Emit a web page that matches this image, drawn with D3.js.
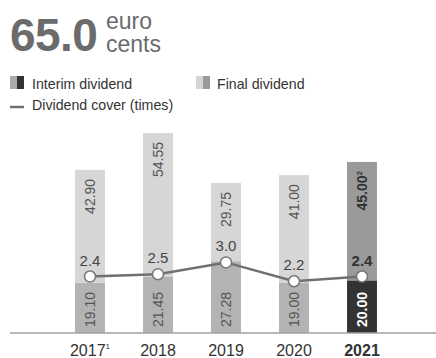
<!DOCTYPE html>
<html>
<head>
<meta charset="utf-8">
<script src="https://cdn.jsdelivr.net/npm/d3@7"></script>
<style>
  html, body { margin: 0; padding: 0; background: #fff; }
  svg { display: block; }
  text { font-family: "Liberation Sans", Arial, sans-serif; }
</style>
</head>
<body>
<script>
// Dividend per share, split into interim and final, with dividend cover
const years = ["2017", "2018", "2019", "2020", "2021"];
const yearNotes = ["1", "", "", "", ""];
const interim = [19.10, 21.45, 27.28, 19.00, 20.00];
const finalDiv = [42.90, 54.55, 29.75, 41.00, 45.00];
const finalNotes = ["", "", "", "", "2"];
const cover = [2.4, 2.5, 3.0, 2.2, 2.4];
const highlightYear = "2021";

const W = 436, H = 358;
const svg = d3.select("body").append("svg").attr("width", W).attr("height", H);

// Headline figure
svg.append("text").attr("x", 10).attr("y", 51).text("65.0")
  .attr("font-size", 46).attr("font-weight", 700).attr("fill", "#6b6b6b")
  .attr("font-family", "'Open Sans', sans-serif").attr("letter-spacing", -0.6);
svg.append("text").attr("x", 106).attr("y", 29).text("euro")
  .attr("font-size", 23).attr("font-weight", 300).attr("fill", "#6b6b6b")
  .attr("font-family", "Lato, sans-serif");
svg.append("text").attr("x", 106).attr("y", 52).text("cents")
  .attr("font-size", 23).attr("font-weight", 300).attr("fill", "#6b6b6b")
  .attr("font-family", "Lato, sans-serif");

// Legend
const legendFont = "Lato, sans-serif";
function swatch(x, y, c1, c2) {
  svg.append("rect").attr("x", x).attr("y", y).attr("width", 7).attr("height", 13).attr("fill", c1);
  svg.append("rect").attr("x", x + 7).attr("y", y).attr("width", 7).attr("height", 13).attr("fill", c2);
}
swatch(10, 76, "#ababab", "#333333");
svg.append("text").attr("x", 32).attr("y", 89).text("Interim dividend")
  .attr("font-size", 14.2).attr("fill", "#333").attr("font-family", legendFont);
swatch(196, 76, "#d4d4d4", "#999999");
svg.append("text").attr("x", 217).attr("y", 89).text("Final dividend")
  .attr("font-size", 14.2).attr("fill", "#333").attr("font-family", legendFont);
svg.append("line").attr("x1", 10).attr("x2", 24).attr("y1", 107).attr("y2", 107)
  .attr("stroke", "#707070").attr("stroke-width", 2.5);
svg.append("text").attr("x", 32).attr("y", 110).text("Dividend cover (times)")
  .attr("font-size", 14.2).attr("fill", "#333").attr("font-family", legendFont);

// Scales
const x = d3.scaleBand().domain(years).range([56, 396]).paddingInner(0.56).paddingOuter(0.28);
const y = d3.scaleLinear().domain([0, 76]).range([333, 133]);
const yCover = d3.scaleLinear().domain([0, 8.5]).range([333, 133]);

const rows = years.map((yr, i) => ({
  year: yr, note: yearNotes[i], interim: interim[i], fin: finalDiv[i],
  finNote: finalNotes[i], cover: cover[i], hi: yr === highlightYear
}));

// Stacked bars
const bars = svg.append("g");
bars.selectAll("rect.interim").data(rows).join("rect")
  .attr("x", d => x(d.year)).attr("width", x.bandwidth())
  .attr("y", d => y(d.interim)).attr("height", d => y(0) - y(d.interim))
  .attr("fill", d => d.hi ? "#333333" : "#b3b3b3");
bars.selectAll("rect.final").data(rows).join("rect")
  .attr("x", d => x(d.year)).attr("width", x.bandwidth())
  .attr("y", d => y(d.interim + d.fin)).attr("height", d => y(d.interim) - y(d.interim + d.fin))
  .attr("fill", d => d.hi ? "#9a9a9a" : "#d6d6d6");

// Bar value labels (rotated)
const cx = d => x(d.year) + x.bandwidth() / 2;
bars.selectAll("text.fin").data(rows).join("text")
  .attr("transform", d => `translate(${cx(d) + 5},${y(d.interim + d.fin) + 9}) rotate(-90)`)
  .attr("text-anchor", "end").attr("font-size", 14)
  .attr("font-weight", d => d.hi ? 700 : 400)
  .attr("fill", d => d.hi ? "#333" : "#555")
  .each(function(d) {
    const t = d3.select(this);
    t.append("tspan").text(d.fin.toFixed(2));
    if (d.finNote) t.append("tspan").text(d.finNote).attr("font-size", 8).attr("dy", -5);
  });
bars.selectAll("text.int").data(rows).join("text")
  .attr("transform", d => `translate(${cx(d) + 5},${y(0) - 6}) rotate(-90)`)
  .attr("text-anchor", "start").attr("font-size", 14)
  .attr("font-weight", d => d.hi ? 700 : 400)
  .attr("fill", d => d.hi ? "#fff" : "#555")
  .text(d => d.interim.toFixed(2));

// Baseline
svg.append("line").attr("x1", 10).attr("x2", 436).attr("y1", y(0)).attr("y2", y(0))
  .attr("stroke", "#a0a0a0").attr("stroke-width", 1.5);

// Dividend cover line
const line = d3.line().x(cx).y(d => yCover(d.cover));
svg.append("path").datum(rows).attr("d", line)
  .attr("fill", "none").attr("stroke", "#707070").attr("stroke-width", 2.5);
svg.selectAll("circle.cov").data(rows).join("circle")
  .attr("cx", cx).attr("cy", d => yCover(d.cover)).attr("r", 5.5)
  .attr("fill", "#fff").attr("stroke", "#777").attr("stroke-width", 1.5);
svg.selectAll("text.cov").data(rows).join("text")
  .attr("x", cx).attr("y", d => yCover(d.cover) - 11)
  .attr("text-anchor", "middle").attr("font-size", 15)
  .attr("font-weight", d => d.hi ? 700 : 400)
  .attr("fill", d => d.hi ? "#333" : "#444")
  .text(d => d.cover.toFixed(1));

// Year axis labels
svg.selectAll("text.yr").data(rows).join("text")
  .attr("x", cx).attr("y", 356)
  .attr("text-anchor", "middle").attr("font-size", 16)
  .attr("font-weight", d => d.hi ? 700 : 400)
  .attr("fill", "#333")
  .each(function(d) {
    const t = d3.select(this);
    t.append("tspan").text(d.year);
    if (d.note) t.append("tspan").text(d.note).attr("font-size", 8).attr("dy", -7);
  });
</script>
</body>
</html>
